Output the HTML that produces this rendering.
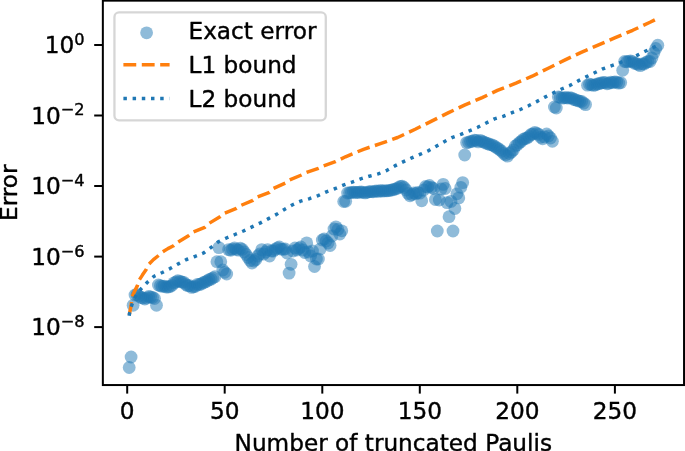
<!DOCTYPE html>
<html><head><meta charset="utf-8"><title>Error vs truncated Paulis</title>
<style>
html,body{margin:0;padding:0;background:#fff;}
svg{display:block;}
text{font-family:"DejaVu Sans","Liberation Sans",sans-serif;font-size:23.2px;fill:#000;stroke:#000;stroke-width:0.4px;stroke-linejoin:round;}
</style></head><body>
<svg width="685" height="451" viewBox="0 0 685 451">
<rect x="0" y="0" width="685" height="451" fill="#fff"/>
<g fill="#1f77b4" fill-opacity="0.5" stroke="none">
<circle cx="129.2" cy="367.5" r="6.4"/>
<circle cx="131.1" cy="357.0" r="6.4"/>
<circle cx="133.1" cy="305.3" r="6.4"/>
<circle cx="135.0" cy="295.0" r="6.4"/>
<circle cx="137.0" cy="294.5" r="6.4"/>
<circle cx="138.9" cy="296.0" r="6.4"/>
<circle cx="140.9" cy="297.5" r="6.4"/>
<circle cx="142.8" cy="298.0" r="6.4"/>
<circle cx="144.8" cy="299.0" r="6.4"/>
<circle cx="146.7" cy="298.0" r="6.4"/>
<circle cx="148.7" cy="296.5" r="6.4"/>
<circle cx="150.6" cy="297.0" r="6.4"/>
<circle cx="152.6" cy="297.5" r="6.4"/>
<circle cx="154.5" cy="298.5" r="6.4"/>
<circle cx="156.5" cy="305.3" r="6.4"/>
<circle cx="158.4" cy="285.0" r="6.4"/>
<circle cx="160.4" cy="285.6" r="6.4"/>
<circle cx="162.3" cy="286.4" r="6.4"/>
<circle cx="164.3" cy="286.1" r="6.4"/>
<circle cx="166.2" cy="287.0" r="6.4"/>
<circle cx="168.2" cy="287.0" r="6.4"/>
<circle cx="170.1" cy="286.5" r="6.4"/>
<circle cx="172.1" cy="285.3" r="6.4"/>
<circle cx="174.0" cy="282.8" r="6.4"/>
<circle cx="176.0" cy="282.0" r="6.4"/>
<circle cx="177.9" cy="280.7" r="6.4"/>
<circle cx="179.9" cy="281.3" r="6.4"/>
<circle cx="181.8" cy="282.0" r="6.4"/>
<circle cx="183.8" cy="282.3" r="6.4"/>
<circle cx="185.7" cy="284.4" r="6.4"/>
<circle cx="187.7" cy="285.6" r="6.4"/>
<circle cx="189.6" cy="285.7" r="6.4"/>
<circle cx="191.6" cy="287.4" r="6.4"/>
<circle cx="193.5" cy="286.8" r="6.4"/>
<circle cx="195.5" cy="286.3" r="6.4"/>
<circle cx="197.4" cy="284.4" r="6.4"/>
<circle cx="199.4" cy="284.5" r="6.4"/>
<circle cx="201.3" cy="284.0" r="6.4"/>
<circle cx="203.3" cy="282.7" r="6.4"/>
<circle cx="205.2" cy="281.9" r="6.4"/>
<circle cx="207.2" cy="281.0" r="6.4"/>
<circle cx="209.1" cy="279.6" r="6.4"/>
<circle cx="211.1" cy="279.1" r="6.4"/>
<circle cx="213.0" cy="277.8" r="6.4"/>
<circle cx="215.0" cy="276.7" r="6.4"/>
<circle cx="216.9" cy="261.7" r="6.4"/>
<circle cx="218.9" cy="247.6" r="6.4"/>
<circle cx="220.8" cy="261.7" r="6.4"/>
<circle cx="222.8" cy="270.0" r="6.4"/>
<circle cx="224.7" cy="272.3" r="6.4"/>
<circle cx="226.7" cy="274.0" r="6.4"/>
<circle cx="228.6" cy="249.6" r="6.4"/>
<circle cx="230.6" cy="250.3" r="6.4"/>
<circle cx="232.5" cy="249.2" r="6.4"/>
<circle cx="234.5" cy="247.9" r="6.4"/>
<circle cx="236.4" cy="249.4" r="6.4"/>
<circle cx="238.4" cy="250.2" r="6.4"/>
<circle cx="240.3" cy="248.2" r="6.4"/>
<circle cx="242.3" cy="249.4" r="6.4"/>
<circle cx="244.2" cy="252.0" r="6.4"/>
<circle cx="246.2" cy="254.5" r="6.4"/>
<circle cx="248.1" cy="257.5" r="6.4"/>
<circle cx="250.1" cy="260.5" r="6.4"/>
<circle cx="252.0" cy="263.0" r="6.4"/>
<circle cx="254.0" cy="261.0" r="6.4"/>
<circle cx="255.9" cy="259.5" r="6.4"/>
<circle cx="257.9" cy="256.0" r="6.4"/>
<circle cx="259.8" cy="254.0" r="6.4"/>
<circle cx="261.8" cy="249.6" r="6.4"/>
<circle cx="263.7" cy="254.0" r="6.4"/>
<circle cx="265.7" cy="252.0" r="6.4"/>
<circle cx="267.6" cy="249.6" r="6.4"/>
<circle cx="269.6" cy="256.0" r="6.4"/>
<circle cx="271.5" cy="251.0" r="6.4"/>
<circle cx="273.5" cy="251.0" r="6.4"/>
<circle cx="275.4" cy="249.4" r="6.4"/>
<circle cx="277.4" cy="247.9" r="6.4"/>
<circle cx="279.3" cy="247.0" r="6.4"/>
<circle cx="281.3" cy="249.1" r="6.4"/>
<circle cx="283.2" cy="249.4" r="6.4"/>
<circle cx="285.2" cy="249.0" r="6.4"/>
<circle cx="287.1" cy="253.0" r="6.4"/>
<circle cx="289.1" cy="273.1" r="6.4"/>
<circle cx="291.1" cy="264.3" r="6.4"/>
<circle cx="293.0" cy="251.0" r="6.4"/>
<circle cx="295.0" cy="248.0" r="6.4"/>
<circle cx="296.9" cy="250.0" r="6.4"/>
<circle cx="298.9" cy="248.5" r="6.4"/>
<circle cx="300.8" cy="247.0" r="6.4"/>
<circle cx="302.8" cy="250.0" r="6.4"/>
<circle cx="304.7" cy="252.5" r="6.4"/>
<circle cx="306.7" cy="242.9" r="6.4"/>
<circle cx="308.6" cy="252.0" r="6.4"/>
<circle cx="310.6" cy="256.0" r="6.4"/>
<circle cx="312.5" cy="251.0" r="6.4"/>
<circle cx="314.5" cy="266.5" r="6.4"/>
<circle cx="316.4" cy="259.0" r="6.4"/>
<circle cx="318.4" cy="259.0" r="6.4"/>
<circle cx="320.3" cy="249.0" r="6.4"/>
<circle cx="322.3" cy="240.0" r="6.4"/>
<circle cx="324.2" cy="239.0" r="6.4"/>
<circle cx="326.2" cy="241.0" r="6.4"/>
<circle cx="328.1" cy="243.0" r="6.4"/>
<circle cx="330.1" cy="245.5" r="6.4"/>
<circle cx="332.0" cy="236.0" r="6.4"/>
<circle cx="334.0" cy="229.0" r="6.4"/>
<circle cx="335.9" cy="226.8" r="6.4"/>
<circle cx="337.9" cy="229.5" r="6.4"/>
<circle cx="339.8" cy="234.0" r="6.4"/>
<circle cx="341.8" cy="230.8" r="6.4"/>
<circle cx="343.7" cy="201.5" r="6.4"/>
<circle cx="345.7" cy="201.3" r="6.4"/>
<circle cx="347.6" cy="193.0" r="6.4"/>
<circle cx="349.6" cy="192.8" r="6.4"/>
<circle cx="351.5" cy="192.4" r="6.4"/>
<circle cx="353.5" cy="192.1" r="6.4"/>
<circle cx="355.4" cy="192.4" r="6.4"/>
<circle cx="357.4" cy="192.5" r="6.4"/>
<circle cx="359.3" cy="192.1" r="6.4"/>
<circle cx="361.3" cy="192.0" r="6.4"/>
<circle cx="363.2" cy="192.3" r="6.4"/>
<circle cx="365.2" cy="192.9" r="6.4"/>
<circle cx="367.1" cy="192.3" r="6.4"/>
<circle cx="369.1" cy="191.7" r="6.4"/>
<circle cx="371.0" cy="191.6" r="6.4"/>
<circle cx="373.0" cy="191.8" r="6.4"/>
<circle cx="374.9" cy="191.2" r="6.4"/>
<circle cx="376.9" cy="191.0" r="6.4"/>
<circle cx="378.8" cy="191.4" r="6.4"/>
<circle cx="380.8" cy="190.5" r="6.4"/>
<circle cx="382.7" cy="191.1" r="6.4"/>
<circle cx="384.7" cy="190.6" r="6.4"/>
<circle cx="386.6" cy="190.9" r="6.4"/>
<circle cx="388.6" cy="190.6" r="6.4"/>
<circle cx="390.5" cy="190.2" r="6.4"/>
<circle cx="392.5" cy="189.9" r="6.4"/>
<circle cx="394.4" cy="189.1" r="6.4"/>
<circle cx="396.4" cy="188.8" r="6.4"/>
<circle cx="398.3" cy="187.6" r="6.4"/>
<circle cx="400.3" cy="186.5" r="6.4"/>
<circle cx="402.2" cy="186.2" r="6.4"/>
<circle cx="404.2" cy="187.5" r="6.4"/>
<circle cx="406.1" cy="190.0" r="6.4"/>
<circle cx="408.1" cy="193.5" r="6.4"/>
<circle cx="410.0" cy="195.8" r="6.4"/>
<circle cx="412.0" cy="194.5" r="6.4"/>
<circle cx="413.9" cy="193.0" r="6.4"/>
<circle cx="415.9" cy="193.6" r="6.4"/>
<circle cx="417.8" cy="192.5" r="6.4"/>
<circle cx="419.8" cy="193.2" r="6.4"/>
<circle cx="421.7" cy="200.8" r="6.4"/>
<circle cx="423.7" cy="190.0" r="6.4"/>
<circle cx="425.6" cy="186.5" r="6.4"/>
<circle cx="427.6" cy="187.0" r="6.4"/>
<circle cx="429.5" cy="185.5" r="6.4"/>
<circle cx="431.5" cy="187.3" r="6.4"/>
<circle cx="433.4" cy="188.5" r="6.4"/>
<circle cx="435.4" cy="199.5" r="6.4"/>
<circle cx="437.3" cy="231.0" r="6.4"/>
<circle cx="439.3" cy="200.0" r="6.4"/>
<circle cx="441.2" cy="189.0" r="6.4"/>
<circle cx="443.2" cy="184.4" r="6.4"/>
<circle cx="445.1" cy="188.5" r="6.4"/>
<circle cx="447.1" cy="202.6" r="6.4"/>
<circle cx="449.0" cy="216.7" r="6.4"/>
<circle cx="451.0" cy="201.4" r="6.4"/>
<circle cx="453.0" cy="231.0" r="6.4"/>
<circle cx="454.9" cy="208.5" r="6.4"/>
<circle cx="456.9" cy="193.8" r="6.4"/>
<circle cx="458.8" cy="197.9" r="6.4"/>
<circle cx="460.8" cy="187.3" r="6.4"/>
<circle cx="462.7" cy="182.6" r="6.4"/>
<circle cx="464.7" cy="155.0" r="6.4"/>
<circle cx="466.6" cy="142.6" r="6.4"/>
<circle cx="468.6" cy="142.3" r="6.4"/>
<circle cx="470.5" cy="141.5" r="6.4"/>
<circle cx="472.5" cy="141.3" r="6.4"/>
<circle cx="474.4" cy="140.1" r="6.4"/>
<circle cx="476.4" cy="140.5" r="6.4"/>
<circle cx="478.3" cy="141.9" r="6.4"/>
<circle cx="480.3" cy="140.4" r="6.4"/>
<circle cx="482.2" cy="141.3" r="6.4"/>
<circle cx="484.2" cy="142.1" r="6.4"/>
<circle cx="486.1" cy="143.1" r="6.4"/>
<circle cx="488.1" cy="143.6" r="6.4"/>
<circle cx="490.0" cy="144.7" r="6.4"/>
<circle cx="492.0" cy="144.8" r="6.4"/>
<circle cx="493.9" cy="145.9" r="6.4"/>
<circle cx="495.9" cy="147.3" r="6.4"/>
<circle cx="497.8" cy="148.3" r="6.4"/>
<circle cx="499.8" cy="149.7" r="6.4"/>
<circle cx="501.7" cy="151.3" r="6.4"/>
<circle cx="503.7" cy="153.5" r="6.4"/>
<circle cx="505.6" cy="154.9" r="6.4"/>
<circle cx="507.6" cy="156.1" r="6.4"/>
<circle cx="509.5" cy="153.4" r="6.4"/>
<circle cx="511.5" cy="152.0" r="6.4"/>
<circle cx="513.4" cy="149.9" r="6.4"/>
<circle cx="515.4" cy="146.0" r="6.4"/>
<circle cx="517.3" cy="144.7" r="6.4"/>
<circle cx="519.3" cy="142.7" r="6.4"/>
<circle cx="521.2" cy="141.4" r="6.4"/>
<circle cx="523.2" cy="139.3" r="6.4"/>
<circle cx="525.1" cy="138.5" r="6.4"/>
<circle cx="527.1" cy="138.0" r="6.4"/>
<circle cx="529.0" cy="136.5" r="6.4"/>
<circle cx="531.0" cy="134.5" r="6.4"/>
<circle cx="532.9" cy="133.9" r="6.4"/>
<circle cx="534.9" cy="132.3" r="6.4"/>
<circle cx="536.8" cy="133.4" r="6.4"/>
<circle cx="538.8" cy="134.5" r="6.4"/>
<circle cx="540.7" cy="137.3" r="6.4"/>
<circle cx="542.7" cy="138.8" r="6.4"/>
<circle cx="544.6" cy="136.9" r="6.4"/>
<circle cx="546.6" cy="134.0" r="6.4"/>
<circle cx="548.5" cy="136.0" r="6.4"/>
<circle cx="550.5" cy="138.0" r="6.4"/>
<circle cx="552.4" cy="141.3" r="6.4"/>
<circle cx="554.4" cy="107.0" r="6.4"/>
<circle cx="556.3" cy="108.0" r="6.4"/>
<circle cx="558.3" cy="96.8" r="6.4"/>
<circle cx="560.2" cy="97.3" r="6.4"/>
<circle cx="562.2" cy="98.1" r="6.4"/>
<circle cx="564.1" cy="97.8" r="6.4"/>
<circle cx="566.1" cy="97.5" r="6.4"/>
<circle cx="568.0" cy="98.1" r="6.4"/>
<circle cx="570.0" cy="97.7" r="6.4"/>
<circle cx="571.9" cy="98.1" r="6.4"/>
<circle cx="573.9" cy="99.5" r="6.4"/>
<circle cx="575.8" cy="99.9" r="6.4"/>
<circle cx="577.8" cy="100.6" r="6.4"/>
<circle cx="579.7" cy="101.3" r="6.4"/>
<circle cx="581.7" cy="101.5" r="6.4"/>
<circle cx="583.6" cy="103.1" r="6.4"/>
<circle cx="585.6" cy="104.6" r="6.4"/>
<circle cx="587.5" cy="85.2" r="6.4"/>
<circle cx="589.5" cy="84.2" r="6.4"/>
<circle cx="591.4" cy="84.7" r="6.4"/>
<circle cx="593.4" cy="85.4" r="6.4"/>
<circle cx="595.3" cy="84.9" r="6.4"/>
<circle cx="597.3" cy="84.0" r="6.4"/>
<circle cx="599.2" cy="83.7" r="6.4"/>
<circle cx="601.2" cy="82.9" r="6.4"/>
<circle cx="603.1" cy="82.6" r="6.4"/>
<circle cx="605.1" cy="82.3" r="6.4"/>
<circle cx="607.0" cy="83.8" r="6.4"/>
<circle cx="609.0" cy="83.2" r="6.4"/>
<circle cx="610.9" cy="82.2" r="6.4"/>
<circle cx="612.9" cy="82.6" r="6.4"/>
<circle cx="614.9" cy="81.8" r="6.4"/>
<circle cx="616.8" cy="82.1" r="6.4"/>
<circle cx="618.8" cy="83.1" r="6.4"/>
<circle cx="620.7" cy="82.6" r="6.4"/>
<circle cx="622.7" cy="70.3" r="6.4"/>
<circle cx="624.6" cy="61.5" r="6.4"/>
<circle cx="626.6" cy="61.8" r="6.4"/>
<circle cx="628.5" cy="61.4" r="6.4"/>
<circle cx="630.5" cy="60.9" r="6.4"/>
<circle cx="632.4" cy="61.6" r="6.4"/>
<circle cx="634.4" cy="63.3" r="6.4"/>
<circle cx="636.3" cy="63.5" r="6.4"/>
<circle cx="638.3" cy="64.4" r="6.4"/>
<circle cx="640.2" cy="65.6" r="6.4"/>
<circle cx="642.2" cy="63.9" r="6.4"/>
<circle cx="644.1" cy="64.0" r="6.4"/>
<circle cx="646.1" cy="62.5" r="6.4"/>
<circle cx="648.0" cy="61.5" r="6.4"/>
<circle cx="650.0" cy="61.5" r="6.4"/>
<circle cx="651.9" cy="58.0" r="6.4"/>
<circle cx="653.9" cy="53.0" r="6.4"/>
<circle cx="655.8" cy="48.5" r="6.4"/>
<circle cx="657.8" cy="45.2" r="6.4"/>
</g>
<polyline points="129.2,315.7 129.4,314.0 131.1,305.6 132.1,297.0 134.4,291.6 137.3,285.9 139.1,280.2 142.4,275.1 146.2,269.6 148.8,264.3 153.4,259.6 158.6,255.5 162.7,251.9 167.9,248.6 173.5,245.8 177.9,242.1 188.9,235.4 192.8,232.2 204.7,227.4 208.8,223.5 220.0,216.8 224.1,213.5 236.4,208.4 240.5,205.6 252.9,200.4 257.1,197.2 269.5,192.4 273.2,188.6 285.5,183.0 289.3,180.1 301.5,175.0 306.2,172.6 318.4,168.3 323.2,166.0 335.4,161.7 345.5,156.8 363.5,149.3 381.1,143.4 397.6,137.5 415.2,129.3 431.6,121.1 448.1,112.9 464.5,105.1 482.2,97.6 497.4,90.4 516.0,83.1 532.2,76.2 548.3,68.2 565.7,59.6 581.8,52.1 599.2,44.7 615.3,37.7 632.7,30.3 650.0,22.3 657.5,18.5" fill="none" stroke="#ff7f0e" stroke-width="3.47" stroke-dasharray="12.84 5.55" stroke-dashoffset="-1.1" stroke-linejoin="round"/>
<polyline points="129.2,315.7 129.4,314.0 131.7,305.3 134.0,299.0 137.0,294.0 141.1,288.8 147.4,282.3 154.1,276.3 162.3,272.5 170.0,268.6 178.2,263.9 186.5,259.5 195.0,256.5 203.5,253.0 210.5,247.8 218.2,241.9 226.4,238.0 235.0,234.5 243.4,231.0 252.0,226.9 260.4,222.9 268.5,218.6 276.5,214.4 284.0,209.7 292.1,205.0 300.6,201.2 309.0,198.8 318.1,195.6 326.4,191.8 335.4,188.5 343.3,185.1 352.0,182.1 360.6,178.9 369.3,176.2 378.2,173.9 387.0,170.3 394.8,165.9 403.0,161.9 411.7,157.9 419.9,154.4 428.1,150.9 436.3,146.2 444.6,141.5 452.6,137.3 460.9,134.3 469.3,130.8 477.7,127.3 486.2,123.0 494.5,118.9 503.1,116.3 511.5,112.9 520.3,109.5 528.5,105.8 536.7,101.6 545.0,97.1 553.2,93.0 561.6,89.0 569.7,85.6 578.1,80.9 586.1,76.9 594.1,73.0 602.7,68.9 611.1,65.9 620.0,62.8 628.5,58.9 637.0,55.4 645.2,51.3 657.5,45.4" fill="none" stroke="#1f77b4" stroke-width="3.47" stroke-dasharray="3.47 5.73" stroke-linejoin="round"/>
<g stroke="#000" stroke-width="2.0" fill="none"><line x1="127.2" y1="385.0" x2="127.2" y2="393.6"/><line x1="224.7" y1="385.0" x2="224.7" y2="393.6"/><line x1="322.3" y1="385.0" x2="322.3" y2="393.6"/><line x1="419.8" y1="385.0" x2="419.8" y2="393.6"/><line x1="517.3" y1="385.0" x2="517.3" y2="393.6"/><line x1="614.9" y1="385.0" x2="614.9" y2="393.6"/><line x1="102.85" y1="45.0" x2="94.2" y2="45.0"/><line x1="102.85" y1="115.5" x2="94.2" y2="115.5"/><line x1="102.85" y1="186.0" x2="94.2" y2="186.0"/><line x1="102.85" y1="256.6" x2="94.2" y2="256.6"/><line x1="102.85" y1="327.1" x2="94.2" y2="327.1"/></g>
<rect x="102.85" y="0.65" width="581.2" height="384.4" fill="none" stroke="#000" stroke-width="2.0" stroke-linejoin="miter"/>
<text x="127.2" y="418.6" text-anchor="middle">0</text><text x="224.7" y="418.6" text-anchor="middle">50</text><text x="322.3" y="418.6" text-anchor="middle">100</text><text x="419.8" y="418.6" text-anchor="middle">150</text><text x="517.3" y="418.6" text-anchor="middle">200</text><text x="614.9" y="418.6" text-anchor="middle">250</text>
<text x="84.6" y="53.0" text-anchor="end">10<tspan dy="-8.1" font-size="16.2">0</tspan></text><text x="84.6" y="123.5" text-anchor="end">10<tspan dy="-8.1" font-size="16.2">−2</tspan></text><text x="84.6" y="194.0" text-anchor="end">10<tspan dy="-8.1" font-size="16.2">−4</tspan></text><text x="84.6" y="264.6" text-anchor="end">10<tspan dy="-8.1" font-size="16.2">−6</tspan></text><text x="84.6" y="335.1" text-anchor="end">10<tspan dy="-8.1" font-size="16.2">−8</tspan></text>
<text x="393.3" y="450.7" text-anchor="middle">Number of truncated Paulis</text>
<text transform="translate(17.3,192.7) rotate(-90)" text-anchor="middle">Error</text>
<rect x="114.45" y="12.4" width="211.35" height="108" rx="4.6" ry="4.6" fill="#fff" fill-opacity="0.8" stroke="#ccc" stroke-opacity="0.8" stroke-width="2.3"/>
<circle cx="146.6" cy="32.8" r="6.4" fill="#1f77b4" fill-opacity="0.5"/>
<line x1="123.4" y1="64.8" x2="169.6" y2="64.8" stroke="#ff7f0e" stroke-width="3.47" stroke-dasharray="12.84 5.55"/>
<line x1="123.4" y1="98.5" x2="169.6" y2="98.5" stroke="#1f77b4" stroke-width="3.47" stroke-dasharray="3.47 5.73"/>
<text x="188.5" y="39.4">Exact error</text>
<text x="188.5" y="72.8">L1 bound</text>
<text x="188.5" y="106.5">L2 bound</text>
</svg>
</body></html>
